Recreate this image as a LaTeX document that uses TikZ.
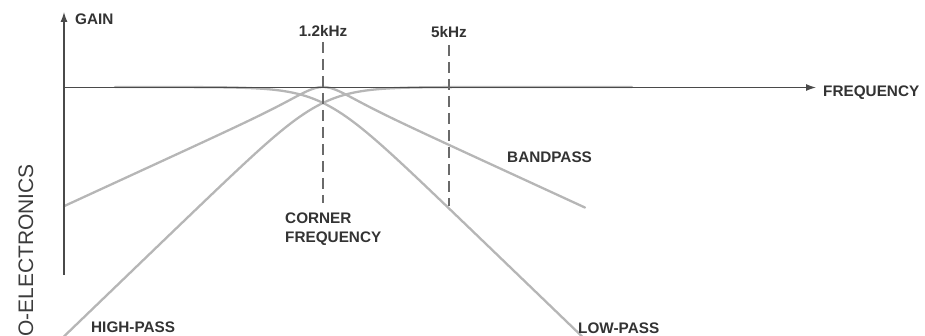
\documentclass[tikz,border=0pt]{standalone}
\usepackage{fontspec}
\setmainfont{Liberation Sans}
\usetikzlibrary{arrows.meta}
\definecolor{axisc}{HTML}{4A4A4A}
\definecolor{curvec}{HTML}{B6B6B6}
\definecolor{dashc}{HTML}{6A6A6A}
\definecolor{textc}{HTML}{333333}
\definecolor{sidec}{HTML}{3C3C3C}
\begin{document}
\begin{tikzpicture}[x=1pt,y=-1pt,
  declare function={
    sp(\v)=max(\v,0)+ln(1+exp(-abs(\v)));
    bp(\w)=\w+ln(1-exp(-\w)+exp(-2*\w));
  },
  axis/.style={draw=axisc, line width=1.3pt},
  curve/.style={draw=curvec, line width=2.3pt, line cap=round},
  guide/.style={draw=dashc, line width=1.4pt, dash pattern=on 11pt off 6pt},
  lbl/.style={text=textc, font=\bfseries\fontsize{15.3}{19}\selectfont, inner sep=0pt},
  sidetext/.style={text=sidec, font=\fontsize{21}{24}\selectfont, inner sep=0pt, rotate=90}
]
\useasboundingbox (0,0) rectangle (925,336);
\begin{scope}
\clip (0,0) rectangle (925,336);
% response curves
\draw[curve] plot[domain=64:585, samples=200] (\x, {87 + 10.99*bp(0.04187*abs(\x-323))});
\draw[curve] plot[domain=115:600, samples=200] (\x, {87 + 23*sp(0.04187*(\x-323))});
\draw[curve] plot[domain=55:632, samples=200] (\x, {87 + 23*sp(0.04187*(323-\x))});
\end{scope}
% side text
\node[sidetext, anchor=base east] (side) at (33,164) {O-ELECTRONICS};
% axes
\coordinate (o) at (64,87.5);
\coordinate (ytop) at (64,12);
\coordinate (ybot) at (64,275);
\coordinate (xend) at (816,87.5);
\draw[axis, -{Latex[length=10pt,width=7pt]}] (ybot) -- (ytop);
\draw[axis, -{Latex[length=10pt,width=7pt]}] (o) -- (xend);
% guide lines
\coordinate (c1t) at (323,42);
\coordinate (c1b) at (323,203);
\coordinate (c2t) at (449,45);
\coordinate (c2b) at (449,206);
\draw[guide] (c1t) -- (c1b);
\draw[guide] (c2t) -- (c2b);
% labels
\node[lbl, anchor=base west] (gain) at (75,25) {GAIN};
\node[lbl, anchor=base] (f1) at (323,36.5) {1.2kHz};
\node[lbl, anchor=base] (f2) at (449,38) {5kHz};
\node[lbl, anchor=base west] (freq) at (823,97) {FREQUENCY};
\node[lbl, anchor=base west] (band) at (507,163) {BANDPASS};
\node[lbl, anchor=north west, align=left] (corner) at (285,213) {CORNER\\FREQUENCY};
\node[lbl, anchor=base west] (hp) at (91,332.5) {HIGH-PASS};
\node[lbl, anchor=base west] (lp) at (578,333) {LOW-PASS};
\end{tikzpicture}
\end{document}
